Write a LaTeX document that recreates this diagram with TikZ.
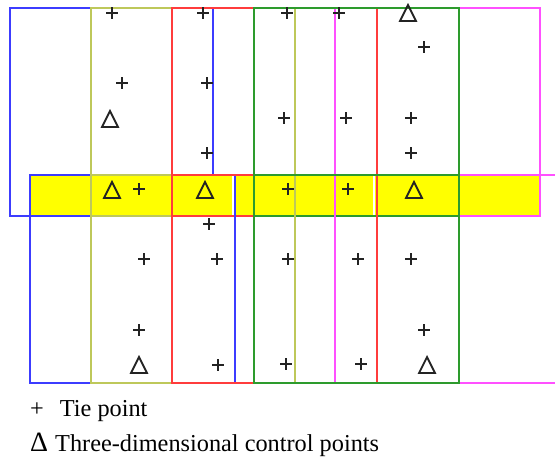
\documentclass[tikz,border=0pt]{standalone}
\usepackage{fontspec}
\setmainfont{Liberation Serif}
\definecolor{blueline}{RGB}{60,60,255}
\definecolor{oliveline}{RGB}{190,200,90}
\definecolor{redline}{RGB}{255,60,60}
\definecolor{greenline}{RGB}{45,155,45}
\definecolor{magline}{RGB}{255,80,255}
\definecolor{overlapfill}{RGB}{255,255,0}
\definecolor{markgray}{RGB}{35,35,35}
\begin{document}
\begin{tikzpicture}[x=1pt,y=-1pt,
  frame/.style={line width=1.6pt},
  tie/.style={minimum size=13pt, inner sep=0pt, path picture={
      \draw[line width=1.5pt, draw=markgray]
        ([yshift=-0.5pt]path picture bounding box.north) -- ([yshift=0.5pt]path picture bounding box.south)
        ([xshift=0.5pt]path picture bounding box.west) -- ([xshift=-0.5pt]path picture bounding box.east);}},
  ctrl/.style={minimum width=20pt, minimum height=20pt, inner sep=0pt, path picture={
      \draw[line width=1.8pt, draw=markgray, line join=miter]
        ([shift={(2pt,2pt)}]path picture bounding box.south west)
        -- ([yshift=-2pt]path picture bounding box.north)
        -- ([shift={(-2pt,2pt)}]path picture bounding box.south east) -- cycle;}},
  legend/.style={anchor=base west, inner sep=0pt, text=black, font=\fontsize{24.3}{28}\selectfont},
]
\useasboundingbox (0,0) rectangle (555,459);

% overlap band of the two strips, in pieces with hairline gaps
\fill[overlapfill] (30,175) rectangle (540,216);
\fill[white] (231.5,176) rectangle (233.5,215);
\fill[white] (373,176) rectangle (375,215);

% upper strip of frames
\draw[frame, blueline] (213,175) -- (213,8) -- (10,8) -- (10,216) -- (213,216);
\draw[frame, oliveline] (91,8) rectangle (295,216);
\draw[frame, redline] (172,8) rectangle (377,216);
\draw[frame, magline] (335,8) rectangle (540,216);
\draw[frame, greenline] (254,8) rectangle (459,216);

% lower strip of frames
\draw[frame, blueline] (30,175) rectangle (235,383);
\draw[frame, oliveline] (91,175) rectangle (295,383);
\draw[frame, redline] (172,175) rectangle (377,383);
\draw[frame, magline] (560,175) -- (335,175) -- (335,383) -- (560,383);
\draw[frame, greenline] (254,175) rectangle (459,383);

% tie points
\foreach \x/\y [count=\i] in {112/13, 203/13, 287/13, 339/13, 424/47,
    122/83, 207/83, 284/118, 346/118, 411/118, 207/153, 411/153,
    139/189, 288/189, 348/189, 209/224,
    144/259, 217/259, 288/259, 358/259, 411/259,
    139/330, 424/330, 218/365, 286/364, 361/364}
  \node[tie] (tie\i) at (\x,\y) {};

% three-dimensional control points
\foreach \x/\y [count=\i] in {408/13, 110/119, 112/190, 205/190, 414/190, 139/365, 427/365}
  \node[ctrl] (gcp\i) at (\x,\y) {};

% legend
\node[legend] (legtie) at (30,416) {+\hspace{16pt}Tie point};
\node[legend] (leggcp) at (30,451) {\scalebox{1.15}{Δ}\hspace{7pt}Three-dimensional control points};
\end{tikzpicture}
\end{document}
